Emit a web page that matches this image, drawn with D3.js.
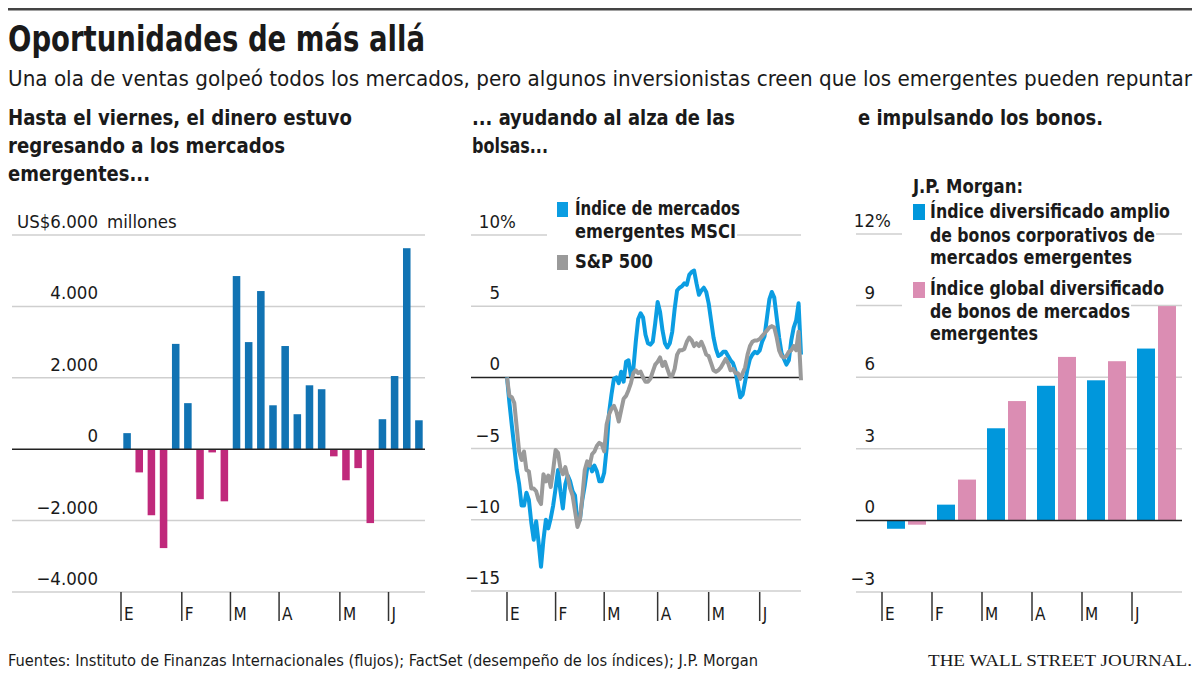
<!DOCTYPE html>
<html><head><meta charset="utf-8">
<script src="https://cdn.jsdelivr.net/npm/d3@7"></script>
<style>
body{margin:0;background:#fff}
svg{display:block}
text{font-family:"Liberation Sans Narrow","DejaVu Sans Condensed","Roboto",sans-serif;fill:#1a1a1a}
</style>
</head><body>
<svg id="c" width="1200" height="686"></svg>
<script>
// ---------- DATA ----------
const monthLabels = ["E","F","M","A","M","J"];

// Left: weekly flows to EM (US$ millions)
const weeks = ["2016-01-01","2016-01-08","2016-01-15","2016-01-22","2016-01-29",
  "2016-02-05","2016-02-12","2016-02-19","2016-02-26",
  "2016-03-04","2016-03-11","2016-03-18","2016-03-25",
  "2016-04-01","2016-04-08","2016-04-15","2016-04-22","2016-04-29",
  "2016-05-06","2016-05-13","2016-05-20","2016-05-27",
  "2016-06-03","2016-06-10","2016-06-17"];
const flows = [450,-650,-1850,-2770,2950,1290,-1400,-90,-1460,4850,3000,4430,1230,2890,980,1790,1680,-200,-870,-530,-2070,840,2050,5630,810];
const flowMonthStart = ["2016-01-01","2016-02-05","2016-03-04","2016-04-01","2016-05-06","2016-06-03"];
const flowTicks = [6000,4000,2000,0,-2000,-4000];
const flowTickLabels = ["US$6.000","4.000","2.000","0","\u22122.000","\u22124.000"];

// Middle: YTD performance (%), one value per trading day (0 = 31 dic 2015)
const msci = [0,-1.8,-3.4,-4.9,-6.5,-7.5,-9.0,-9.0,-8.1,-8.6,
  -10.2,-11.4,-10.1,-11.6,-13.3,-11.4,-10.0,-10.6,-9.9,-9.0,
  -7.8,-6.5,-8.0,-9.2,-7.5,-6.9,-7.3,-8.0,-8.3,-10.2,
  -10.0,-8.6,-7.6,-6.4,-6.0,-6.6,-6.2,-6.6,-7.3,-7.3,
  -6.7,-5.0,-2.5,-1.2,-0.1,0.0,-0.4,0.4,-0.3,1.1,
  1.2,0.1,0.6,2.5,4.1,4.5,4.2,3.0,2.4,2.3,
  2.5,3.8,5.3,4.6,3.3,2.4,2.1,2.4,3.2,4.8,
  6.1,6.3,6.4,6.6,6.5,7.2,7.4,7.5,6.6,5.8,
  6.1,6.3,6.0,5.2,4.0,2.8,2.0,1.5,1.6,1.8,
  1.8,1.5,1.2,1.0,0.5,-0.5,-1.4,-1.2,-0.3,0.6,
  1.3,1.6,1.8,1.7,1.9,2.5,2.9,4.2,5.5,6.0,
  5.6,4.2,2.8,1.7,1.3,0.9,1.2,2.6,3.5,4.0,
  5.2,1.6];
const sp500 = [0,-1.3,-1.4,-1.8,-3.5,-5.2,-5.8,-5.2,-6.5,-6.6,
  -7.8,-7.8,-8.0,-8.6,-8.9,-6.8,-7.3,-6.9,-7.7,-6.5,
  -5.1,-5.3,-6.4,-6.8,-6.3,-7.0,-7.8,-8.3,-9.4,-10.5,
  -10.0,-8.4,-6.5,-5.9,-6.2,-5.4,-5.2,-4.8,-4.6,-4.7,
  -5.2,-3.3,-2.6,-2.2,-2.0,-2.4,-3.1,-2.3,-1.5,-1.3,
  -0.9,-0.4,0.3,0.5,0.3,0.4,0.0,-0.3,-0.3,-0.1,
  0.4,0.9,1.1,1.4,0.8,1.1,0.6,0.1,0.1,0.6,
  1.6,1.9,1.9,2.0,2.5,2.8,2.6,2.2,2.4,2.2,
  2.5,2.1,1.6,1.5,1.0,0.5,0.4,0.5,0.7,1.0,
  1.3,1.0,0.5,0.6,0.3,0.3,-0.1,0.3,0.7,1.6,
  2.2,2.5,2.6,2.6,2.7,2.9,3.1,3.3,3.5,3.6,
  3.5,2.8,1.9,1.5,1.4,1.5,1.8,1.9,2.2,1.9,
  3.2,-0.2];
const tradingMonthStart = [0,20,40,62,83,104];
const perfTicks = [10,5,0,-5,-10,-15];
const perfTickLabels = ["10","5","0","\u22125","\u221210","\u221215"];

// Right: J.P. Morgan bond index returns (%), end of month
const bondMonths = ["ene","feb","mar","abr","may","jun"];
const corpBonds = [-0.35,0.66,3.86,5.64,5.87,7.2];
const globalBonds = [-0.18,1.71,5.0,6.85,6.67,8.98];
const bondTicks = [12,9,6,3,0,-3];
const bondTickLabels = ["12","9","6","3","0","\u22123"];

// ---------- STYLE ----------
const C = {grid:"#cfcfcf", zero:"#222", tick:"#333",
  flowPos:"#1173b3", flowNeg:"#c0297b",
  msci:"#0b9de2", sp:"#9a9a9a",
  corp:"#0097dc", glob:"#db8db3"};
const svg = d3.select("#c");

function fit(sel, w){
  sel.each(function(){
    const L = this.getComputedTextLength();
    if (Math.abs(L - w) > 1){ this.setAttribute("textLength", w); this.setAttribute("lengthAdjust","spacingAndGlyphs"); }
  });
  return sel;
}
function txt(x,y,s,size,weight,w,anchor,fam){
  const t = svg.append("text").attr("x",x).attr("y",y).text(s)
    .attr("font-size",size).attr("font-weight",weight||"normal")
    .attr("text-anchor",anchor||"start");
  if (fam) t.style("font-family",fam);
  if (w) fit(t,w);
  return t;
}

// ---------- HEADER ----------
svg.append("rect").attr("x",8).attr("y",8).attr("width",1184).attr("height",2.5).attr("fill","#444");
txt(8,51,"Oportunidades de más allá",35,"bold",417);
txt(8,86,"Una ola de ventas golpeó todos los mercados, pero algunos inversionistas creen que los emergentes pueden repuntar",21,"normal",1184);
txt(8,125,"Hasta el viernes, el dinero estuvo",21,"bold",344);
txt(8,153,"regresando a los mercados",21,"bold",277);
txt(8,181,"emergentes...",21,"bold",142);
txt(472,125,"... ayudando al alza de las",21,"bold",263);
txt(472,153,"bolsas...",21,"bold",76);
txt(858,125,"e impulsando los bonos.",21,"bold",245);

// ---------- FOOTER ----------
txt(8,666,"Fuentes: Instituto de Finanzas Internacionales (flujos); FactSet (desempeño de los índices); J.P. Morgan",16,"normal",750);
txt(928,666,"THE WALL STREET JOURNAL.",17,"normal",264,"start",'"Liberation Serif","DejaVu Serif",serif');

function monthTicks(g, xs){
  xs.forEach((x,i)=>{
    g.append("line").attr("x1",x).attr("x2",x).attr("y1",592).attr("y2",621)
      .attr("stroke",C.tick).attr("stroke-width",1.5);
    g.append("text").attr("x",x+3).attr("y",620).attr("font-size",17).text(monthLabels[i]);
  });
}
function grid(g, y, ticks, x1, x2){
  ticks.forEach(t=>{ if(t!==0) g.append("line").attr("x1",x1).attr("x2",x2).attr("y1",y(t)).attr("y2",y(t)).attr("stroke",C.grid).attr("stroke-width",1.5); });
}

// ---------- LEFT: flows ----------
{
  const g = svg.append("g");
  const x = d3.scaleBand().domain(weeks).range([121,425]).paddingInner(0.38).paddingOuter(0.19);
  const y = d3.scaleLinear().domain([-4000,6000]).range([592,235]);
  grid(g,y,flowTicks,12,425);
  flowTicks.forEach((t,i)=>{
    g.append("text").attr("x",98).attr("y",y(t)-7).attr("text-anchor","end").attr("font-size",18.5).text(flowTickLabels[i]);
  });
  g.append("text").attr("x",107).attr("y",y(6000)-7).attr("font-size",18.5).text("millones");
  g.selectAll("rect.b").data(flows).join("rect")
    .attr("x",(d,i)=>x(weeks[i])).attr("width",x.bandwidth())
    .attr("y",d=>y(Math.max(0,d))).attr("height",d=>Math.abs(y(d)-y(0)))
    .attr("fill",d=>d>=0?C.flowPos:C.flowNeg);
  g.append("line").attr("x1",12).attr("x2",425).attr("y1",y(0)).attr("y2",y(0)).attr("stroke",C.zero).attr("stroke-width",1.5);
  const off = x.step()*x.paddingInner()/2;
  monthTicks(g, flowMonthStart.map(w=>x(w)-off));
}

// ---------- MIDDLE: performance lines ----------
{
  const g = svg.append("g");
  const x = d3.scaleLinear().domain([0,msci.length-1]).range([507,801]);
  const y = d3.scaleLinear().domain([-15,10]).range([591,235]);
  grid(g,y,perfTicks,471,801);
  perfTicks.forEach((t,i)=>{
    g.append("text").attr("x",500).attr("y",y(t)-7).attr("text-anchor","end").attr("font-size",18.5).text(perfTickLabels[i]);
  });
  g.append("text").attr("x",500).attr("y",y(10)-7).attr("font-size",18.5).text("%");
  g.append("line").attr("x1",471).attr("x2",801).attr("y1",y(0)).attr("y2",y(0)).attr("stroke",C.zero).attr("stroke-width",1.5);
  const line = d3.line().x((d,i)=>x(i)).y(d=>y(d));
  g.append("path").datum(msci).attr("d",line).attr("fill","none").attr("stroke",C.msci).attr("stroke-width",4).attr("stroke-linejoin","round");
  g.append("path").datum(sp500).attr("d",line).attr("fill","none").attr("stroke",C.sp).attr("stroke-width",4).attr("stroke-linejoin","round");
  monthTicks(g, tradingMonthStart.map(d=>x(d)));
  // legend
  const L = svg.append("g");
  const items = [
    {sq:[557,202,C.msci], lines:[["Índice de mercados",215,165],["emergentes MSCI",238,161]]},
    {sq:[557,255,C.sp], lines:[["S&P 500",268,78]]}
  ];
  items.forEach(it=>{
    it.lines.forEach(([s,yy,w])=>{
      L.append("rect").attr("x",547).attr("y",yy-16).attr("width",575+w-547+1).attr("height",21).attr("fill","#fff");
    });
  });
  items.forEach(it=>{
    L.append("rect").attr("x",it.sq[0]).attr("y",it.sq[1]).attr("width",11).attr("height",15).attr("fill",it.sq[2]);
    it.lines.forEach(([s,yy,w])=>{
      fit(L.append("text").attr("x",575).attr("y",yy).attr("font-size",19).attr("font-weight","bold").text(s), w);
    });
  });
}

// ---------- RIGHT: bonds ----------
{
  const g = svg.append("g");
  const x0 = d3.scaleBand().domain(bondMonths).range([882,1182]);
  const x1 = d3.scaleBand().domain(["corp","glob"]).range([5,44]).paddingInner(3/21);
  const y = d3.scaleLinear().domain([-3,12]).range([592,234]);
  grid(g,y,bondTicks,856,1182);
  bondTicks.forEach((t,i)=>{
    g.append("text").attr("x",875).attr("y",y(t)-7).attr("text-anchor","end").attr("font-size",18.5).text(bondTickLabels[i]);
  });
  g.append("text").attr("x",875).attr("y",y(12)-7).attr("font-size",18.5).text("%");
  const series = [["corp",corpBonds,C.corp],["glob",globalBonds,C.glob]];
  series.forEach(([k,vals,col])=>{
    g.selectAll("rect."+k).data(vals).join("rect").attr("class",k)
      .attr("x",(d,i)=>x0(bondMonths[i])+x1(k)).attr("width",x1.bandwidth())
      .attr("y",d=>y(Math.max(0,d))).attr("height",d=>Math.abs(y(d)-y(0)))
      .attr("fill",col);
  });
  g.append("line").attr("x1",856).attr("x2",1182).attr("y1",y(0)).attr("y2",y(0)).attr("stroke",C.zero).attr("stroke-width",1.5);
  monthTicks(g, bondMonths.map(m=>x0(m)));
  // legend
  const L = svg.append("g");
  const head = ["J.P. Morgan:",193,110];
  const items = [
    {sq:[913,204,C.corp], lines:[["Índice diversificado amplio",218,240],["de bonos corporativos de",242,225],["mercados emergentes",264,202]]},
    {sq:[913,282,C.glob], lines:[["Índice global diversificado",295,234],["de bonos de mercados",318,200],["emergentes",340,108]]}
  ];
  items.forEach(it=>it.lines.forEach(([s,yy,w])=>{
    L.append("rect").attr("x",902).attr("y",yy-16).attr("width",930+w-902+1).attr("height",21).attr("fill","#fff");
  }));
  fit(L.append("text").attr("x",913).attr("y",head[1]).attr("font-size",19).attr("font-weight","bold").text(head[0]), head[2]);
  items.forEach(it=>{
    L.append("rect").attr("x",it.sq[0]).attr("y",it.sq[1]).attr("width",12).attr("height",16).attr("fill",it.sq[2]);
    it.lines.forEach(([s,yy,w])=>{
      fit(L.append("text").attr("x",930).attr("y",yy).attr("font-size",19).attr("font-weight","bold").text(s), w);
    });
  });
}
</script>
</body></html>
